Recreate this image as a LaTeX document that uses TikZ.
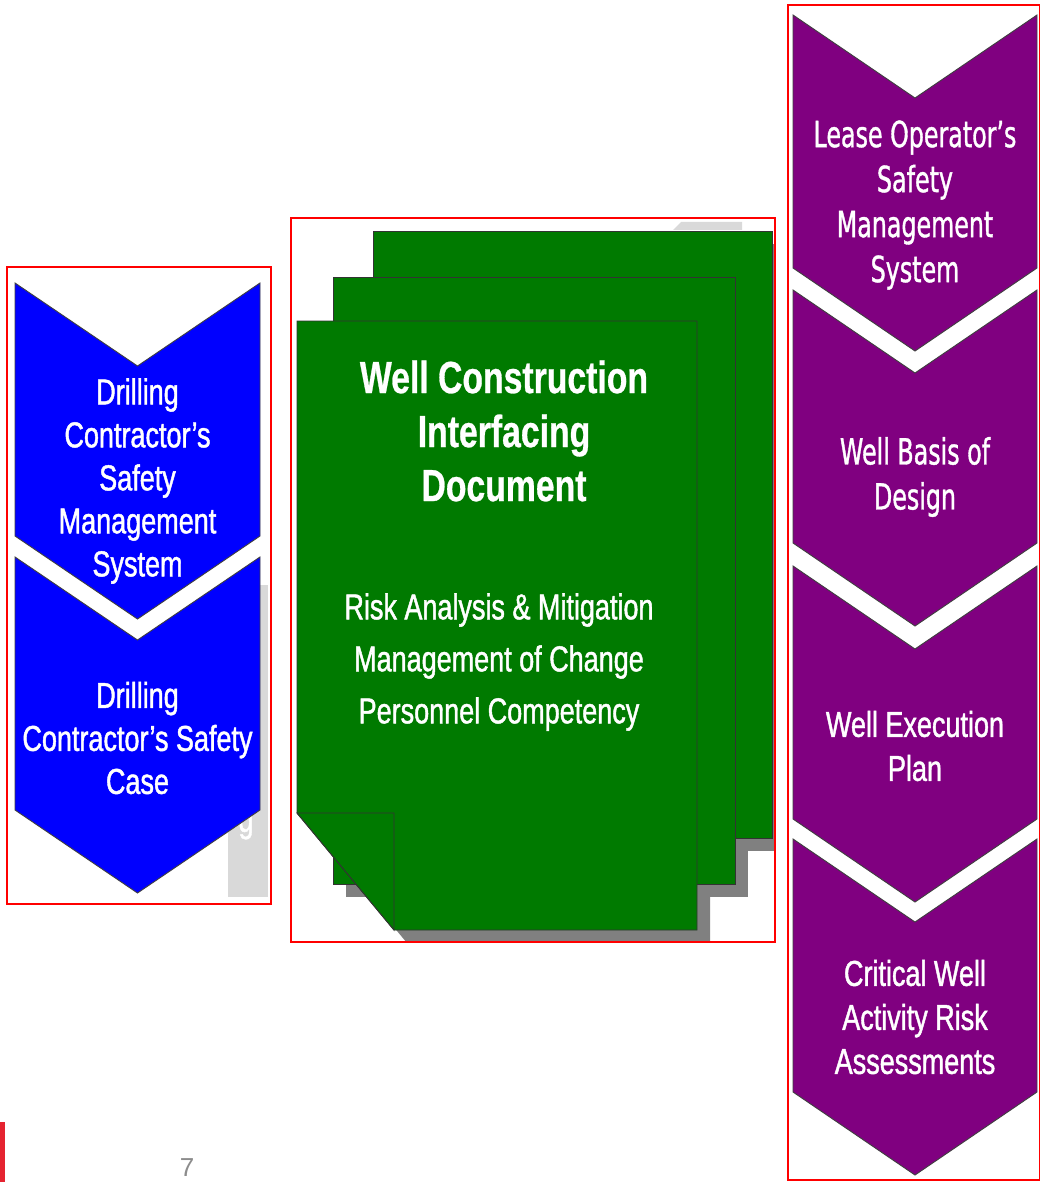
\documentclass[tikz,border=0pt]{standalone}
\usepackage{fontspec}
\setmainfont{Liberation Sans}
\newfontfamily\arialc[FakeStretch=0.75,FakeBold=1.2]{Liberation Sans}
\newfontfamily\arialcb[FakeStretch=0.75,FakeBold=0.6]{Liberation Sans Bold}
\newfontfamily\tahc[FakeStretch=0.66,FakeBold=1.0]{DejaVu Sans}
\newfontfamily\plainf{Liberation Sans}
\definecolor{bluefill}{HTML}{0000FF}
\definecolor{purplefill}{HTML}{800080}
\definecolor{greenfill}{HTML}{007A00}
\definecolor{redline}{HTML}{FF0000}
\definecolor{redbar}{HTML}{E52330}
\definecolor{shadowgray}{HTML}{808080}
\definecolor{lightgray2}{HTML}{D9D9D9}
\newcommand\mychev[4]{% left x, top y, width, colour
  \draw[chevline, fill=#4] (#1,#2) -- ({#1+#3/2},{#2+83}) -- ({#1+#3},#2)
    -- ({#1+#3},{#2+253}) -- ({#1+#3/2},{#2+336}) -- (#1,{#2+253}) -- cycle;}
\tikzset{
  chevline/.style={draw=black!75, line width=0.9pt},
  redframe/.style={draw=redline, line width=2.5pt},
  pageline/.style={draw=black!80, line width=0.9pt, fill=greenfill},
  pageshadow/.style={fill=shadowgray},
  wtxt/.style={text=white, align=center, inner sep=0pt},
  bluetxt/.style={wtxt, font=\arialc\fontsize{36}{43}\selectfont},
  titletxt/.style={wtxt, font=\arialcb\fontsize{45}{54}\selectfont},
  itemtxt/.style={wtxt, font=\arialc\fontsize{36}{52}\selectfont},
  purptxt/.style={wtxt, font=\arialc\fontsize{36}{44}\selectfont},
  purptahtxt/.style={wtxt, font=\tahc\fontsize{36}{45}\selectfont},
}
\begin{document}
\begin{tikzpicture}[x=1pt,y=-1pt]
\useasboundingbox (0,0) rectangle (1039,1182);
\fill[white] (0,0) rectangle (1039,1182);

% ---------------- left column ----------------
\fill[lightgray2] (228,585) rectangle (268,897);
\node[text=white, inner sep=0pt, font=\arialc\fontsize{36}{43}\selectfont] (gfrag) at (246,826) {g};
\mychev{15}{283}{245}{bluefill}
\mychev{15}{557}{245}{bluefill}
\node[bluetxt] (dcsms) at (137.5,481) {Drilling\\Contractor’s\\Safety\\Management\\System};
\node[bluetxt] (dcsc) at (137.5,738) {Drilling\\Contractor’s Safety\\Case};
\draw[redframe] (7,267) rectangle (271,904);

% ---------------- middle column ----------------
\fill[lightgray2] (673,230) -- (681,222) -- (742,222) -- (742,230) -- cycle;
\begin{scope}
  \clip (291,218) rectangle (775,942);
  \begin{scope}[shift={(13,13)}]
    \fill[pageshadow] (373,231) rectangle (772,838);
    \fill[pageshadow] (333,277) rectangle (735,884);
    \fill[pageshadow] (297,321) -- (697,321) -- (697,930) -- (394,930) -- (297,813) -- cycle;
  \end{scope}
\end{scope}
\draw[pageline] (373,231) rectangle (772,838);
\draw[pageline] (333,277) rectangle (735,884);
\draw[pageline] (297,321) -- (697,321) -- (697,930) -- (394,930) -- (297,813) -- cycle;
\draw[pageline] (297,813) -- (394,813) -- (394,930) -- cycle;
\node[titletxt] (wcid) at (504,431) {Well Construction\\Interfacing\\Document};
\node[itemtxt] (items) at (499,662) {Risk Analysis \& Mitigation\\Management of Change\\Personnel Competency};
\draw[redframe] (291,218) rectangle (775,942);

% ---------------- right column ----------------
\mychev{793}{15}{244}{purplefill}
\mychev{793}{290}{244}{purplefill}
\mychev{793}{566}{244}{purplefill}
\mychev{793}{839}{244}{purplefill}
\node[purptahtxt] (losms) at (915,205) {Lease Operator’s\\Safety\\Management\\System};
\node[purptahtxt] (wbod) at (915,477) {Well Basis of\\Design};
\node[purptxt] (wep) at (915,746) {Well Execution\\Plan};
\node[purptxt] (cwara) at (915,1017) {Critical Well\\Activity Risk\\Assessments};
\draw[redframe] (788,5) rectangle (1040,1180);

% ---------------- footer ----------------
\fill[redbar] (0,1122) rectangle (5,1182);
\node[text=black!45, inner sep=0pt, font=\plainf\fontsize{26}{30}\selectfont] (pgnum) at (187,1168) {7};
\end{tikzpicture}
\end{document}
